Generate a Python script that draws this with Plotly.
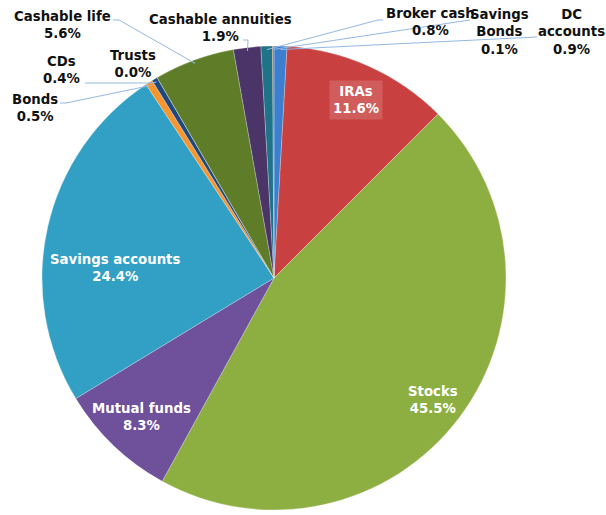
import numpy as np
import plotly.graph_objects as go

W, H = 606, 515

categories = ["DC accounts", "IRAs", "Stocks", "Mutual funds", "Savings accounts",
              "Bonds", "CDs", "Trusts", "Cashable life", "Cashable annuities",
              "Broker cash", "Savings Bonds"]
shares = [0.9, 11.6, 45.5, 8.3, 24.4, 0.5, 0.4, 0.0, 5.6, 1.9, 0.8, 0.1]
colors = ["#3D7FCF", "#C8403F", "#8DAF42", "#6E519A", "#31A0C4", "#F7962F",
          "#1F487C", "#8B2B2A", "#5F7D29", "#4A3468", "#1F7389", "#CC6A10"]

# label text for each slice (line breaks as in the original)
label_text = {
    "DC accounts": "DC<br>accounts",
    "Savings Bonds": "Savings<br>Bonds",
}

# pie geometry (pixels)
CX, CY, R = 274, 278, 232

def px(x):
    return x / W

def py(y):
    return 1 - y / H

fig = go.Figure(go.Pie(
    labels=categories,
    values=shares,
    sort=False,
    direction="clockwise",
    rotation=0,
    textinfo="none",
    hoverinfo="label+percent",
    marker=dict(colors=colors, line=dict(color="rgba(255,255,255,0.5)", width=0.5)),
    domain=dict(x=[px(CX - R), px(CX + R)], y=[py(CY + R), py(CY - R)]),
    showlegend=False,
))

# label placements (pixel centre of the text block), inside or outside
label_pos = {
    "DC accounts": (571, 32, False),
    "IRAs": (356, 100, True),
    "Stocks": (433, 400, True),
    "Mutual funds": (141, 417, True),
    "Savings accounts": (115, 268, True),
    "Bonds": (35, 108, False),
    "CDs": (61, 70, False),
    "Trusts": (133, 64, False),
    "Cashable life": (62, 25, False),
    "Cashable annuities": (220, 28, False),
    "Broker cash": (430, 22, False),
    "Savings Bonds": (499, 32, False),
}
# leader line start points near the label (pixels); slice end computed from data
leader_start = {
    "Cashable life": [(113, 20), (119, 20)],
    "Cashable annuities": [(243, 40), (248, 40)],
    "CDs": [(85, 83), (151, 83)],
    "Bonds": [(60, 103), (66, 103)],
    "Broker cash": [(383, 20), (378, 20)],
    "Savings Bonds": [(470, 20)],
    "DC accounts": [(537, 37)],
}

total = sum(shares)
cum = np.cumsum([0] + shares[:-1])
annotations = []
shapes = []
for i, cat in enumerate(categories):
    pct = shares[i] / total * 100
    txt = label_text.get(cat, cat) + "<br>" + f"{pct:.1f}%"
    x, y, inside = label_pos[cat]
    ann = dict(x=px(x), y=py(y), xref="paper", yref="paper", text=txt,
               showarrow=False, xanchor="center", yanchor="middle",
               font=dict(family="DejaVu Sans", size=13.3,
                         color="white" if inside else "#111111",
                         weight="bold"))
    if cat == "IRAs":
        ann.update(bgcolor="rgba(255,255,255,0.15)", borderpad=3)
    annotations.append(ann)
    if cat in leader_start:
        mid = (cum[i] + shares[i] / 2) / total * 2 * np.pi
        ex = CX + 0.985 * R * np.sin(mid)
        ey = CY - 0.985 * R * np.cos(mid)
        pts = leader_start[cat] + [(ex, ey)]
        path = "M " + " L ".join(f"{px(a):.5f},{py(b):.5f}" for a, b in pts)
        shapes.append(dict(type="path", path=path, xref="paper", yref="paper",
                           line=dict(color="#93B9E3", width=1)))

fig.update_layout(
    width=W, height=H,
    margin=dict(l=0, r=0, t=0, b=0),
    paper_bgcolor="white",
    plot_bgcolor="white",
    annotations=annotations,
    shapes=shapes,
)

fig.write_html("out.html")
